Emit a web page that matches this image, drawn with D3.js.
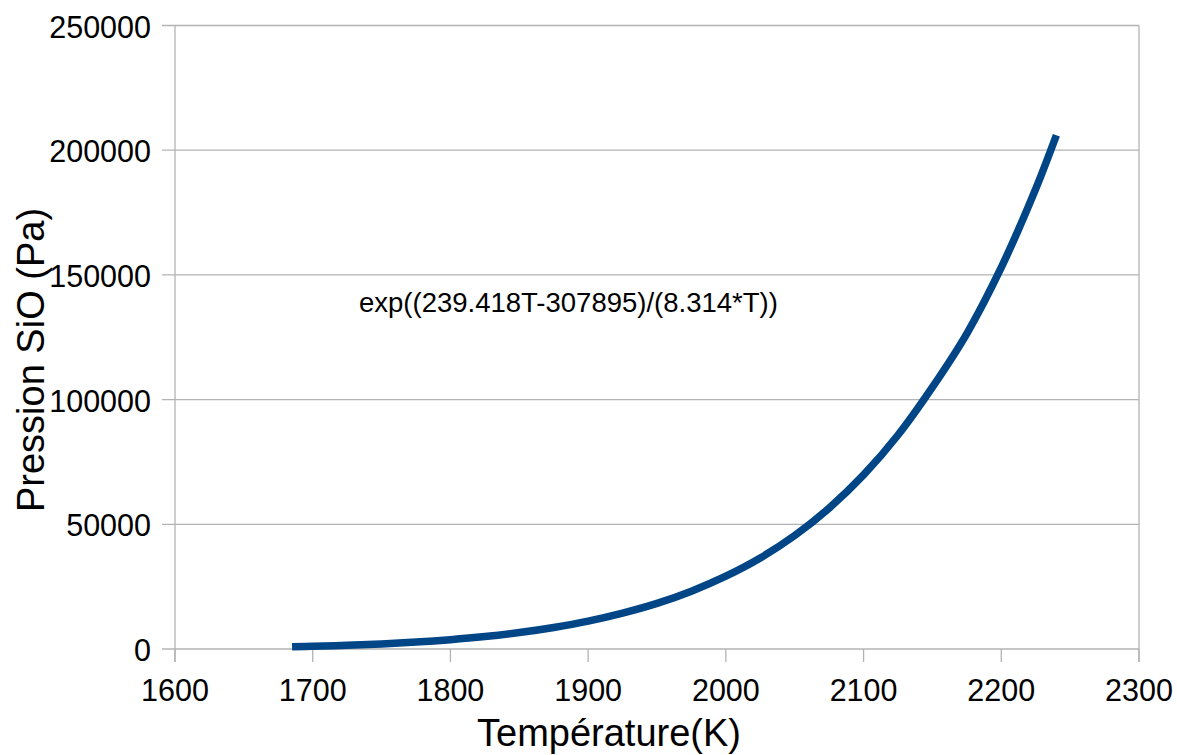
<!DOCTYPE html>
<html><head><meta charset="utf-8">
<script src="https://d3js.org/d3.v7.min.js"></script>
<style>
html,body{margin:0;padding:0;background:#fff;}
svg{display:block;font-family:"Liberation Sans",Arial,sans-serif;}
</style></head>
<body>
<svg id="chart" width="1177" height="755"></svg>
<script>
// Data
const temperatures = [1685,1700,1725,1750,1775,1800,1825,1850,1875,1900,1925,1950,1975,2000,2025,2050,2075,2100,2125,2150,2175,2200,2225,2240];
const pressures    = [900,1100,1500,2050,2780,3750,5000,6600,8650,11200,14400,18300,23200,29200,36500,45500,56500,69800,85800,105000,126500,153000,184500,206000];
const xTicks = [1600,1700,1800,1900,2000,2100,2200,2300];
const yTicks = [0,50000,100000,150000,200000,250000];
const xTitle = "Température(K)";
const yTitle = "Pression SiO (Pa)";
const annotation = "exp((239.418T-307895)/(8.314*T))";

const svg = d3.select("#chart");
const L = 175, R = 1139, T = 25.5, B = 649;
const x = d3.scaleLinear().domain([1600,2300]).range([L,R]);
const y = d3.scaleLinear().domain([0,250000]).range([B,T]);
const grid = "#b3b3b3";

// horizontal gridlines + y ticks
svg.append("g").selectAll("line").data(yTicks).join("line")
  .attr("x1", L-13).attr("x2", R)
  .attr("y1", d=>y(d)).attr("y2", d=>y(d))
  .attr("stroke", grid).attr("stroke-width",1.3);
// left axis line and right border
svg.append("line").attr("x1",L).attr("x2",L).attr("y1",T).attr("y2",B+13).attr("stroke",grid).attr("stroke-width",1.3);
svg.append("line").attr("x1",R).attr("x2",R).attr("y1",T).attr("y2",B+13).attr("stroke",grid).attr("stroke-width",1.3);
// x ticks
svg.append("g").selectAll("line").data(xTicks).join("line")
  .attr("x1", d=>x(d)).attr("x2", d=>x(d))
  .attr("y1", B).attr("y2", B+13)
  .attr("stroke", grid).attr("stroke-width",1.3);

// tick labels
svg.append("g").selectAll("text").data(yTicks).join("text")
  .attr("x", L-24).attr("y", d=>y(d)+1)
  .attr("text-anchor","end").attr("dominant-baseline","central")
  .attr("font-size",30.5).attr("fill","#000")
  .text(d=>d);
svg.append("g").selectAll("text").data(xTicks).join("text")
  .attr("x", d=>x(d)).attr("y", 701)
  .attr("text-anchor","middle")
  .attr("font-size",30.5).attr("fill","#000")
  .text(d=>d);

// axis titles
svg.append("text").attr("x",609).attr("y",746)
  .attr("text-anchor","middle").attr("font-size",38).attr("fill","#000").text(xTitle);
svg.append("text").attr("transform","translate(44,360) rotate(-90)")
  .attr("text-anchor","middle").attr("font-size",38).attr("fill","#000").text(yTitle);

// curve
const pts = temperatures.map((t,i)=>[t,pressures[i]]);
const line = d3.line().x(d=>x(d[0])).y(d=>y(d[1])).curve(d3.curveCatmullRom.alpha(0.5));
svg.append("path").attr("d", line(pts))
  .attr("fill","none").attr("stroke","#004586").attr("stroke-width",7.5)
  .attr("stroke-linecap","butt").attr("stroke-linejoin","round");

// annotation
svg.append("text").attr("x",359).attr("y",312)
  .attr("font-size",27.5).attr("fill","#000").text(annotation);
</script>
</body></html>
